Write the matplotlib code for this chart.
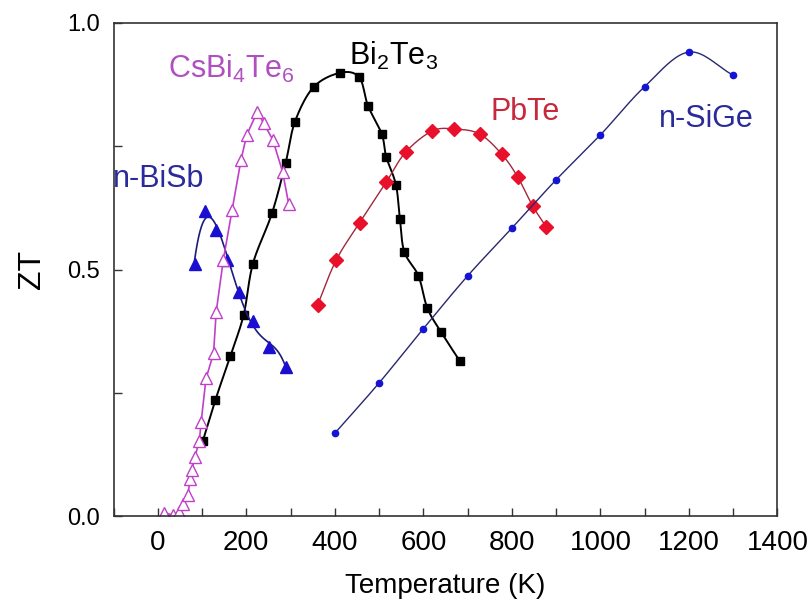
# ZT vs temperature for several thermoelectric materials

import numpy as np
import matplotlib
matplotlib.use('Agg')
import matplotlib.pyplot as plt

# ---- data ----
bi2te3_t  = [102, 130, 164, 194, 215, 258, 289, 310, 352, 412, 455, 475, 506, 516, 538, 547, 557, 589, 609, 640, 682]
bi2te3_zt = [0.153, 0.235, 0.325, 0.408, 0.512, 0.614, 0.717, 0.800, 0.870, 0.899, 0.890, 0.832, 0.775, 0.729,
             0.672, 0.603, 0.536, 0.487, 0.422, 0.373, 0.315]

pbte_t  = [361, 403, 456, 516, 560, 620, 670, 727, 777, 813, 847, 878]
pbte_zt = [0.428, 0.519, 0.595, 0.677, 0.738, 0.781, 0.785, 0.775, 0.734, 0.688, 0.629, 0.586]

sige_t  = [400, 500, 600, 700, 800, 900, 1000, 1100, 1200, 1300]
sige_zt = [0.168, 0.270, 0.380, 0.487, 0.584, 0.682, 0.773, 0.871, 0.941, 0.894]

bisb_t  = [83, 107, 132, 156, 184, 216, 251, 290]
bisb_zt = [0.512, 0.619, 0.581, 0.519, 0.455, 0.396, 0.342, 0.302]

csbt_t  = [14, 34, 49, 58, 68, 73, 77, 84, 94, 98, 109, 126, 132, 148, 168, 188, 201, 225, 239, 260, 282, 296]
csbt_zt = [0.007, 0.002, 0.008, 0.024, 0.042, 0.075, 0.093, 0.120, 0.153, 0.191, 0.279, 0.330, 0.414,
           0.519, 0.621, 0.722, 0.773, 0.820, 0.797, 0.763, 0.698, 0.632]


def smooth(xs, ys, n=20):
    """Catmull-Rom curve through the points (for the smooth connecting lines)"""
    p = np.column_stack([xs, ys]).astype(float)
    p = np.vstack([2 * p[0] - p[1], p, 2 * p[-1] - p[-2]])
    out = []
    for i in range(1, len(p) - 2):
        p0, p1, p2, p3 = p[i - 1], p[i], p[i + 1], p[i + 2]
        t = np.linspace(0, 1, n, endpoint=False)[:, None]
        seg = 0.5 * ((2 * p1) + (-p0 + p2) * t + (2 * p0 - 5 * p1 + 4 * p2 - p3) * t ** 2
                     + (-p0 + 3 * p1 - 3 * p2 + p3) * t ** 3)
        out.append(seg)
    out.append(p[-2][None, :])
    out = np.vstack(out)
    return out[:, 0], out[:, 1]


def fitted(xs, ys, deg):
    """polynomial fit line (the n-BiSb line is a fit, not through the points)"""
    c = np.polyfit(xs, ys, deg)
    xx = np.linspace(xs[0], xs[-1], 200)
    return xx, np.polyval(c, xx)


plt.rcParams['font.family']      = ['Liberation Sans', 'DejaVu Sans']
plt.rcParams['mathtext.default'] = 'regular'

fig = plt.figure(figsize=(8.09, 6.05), dpi=100)
ax = fig.add_axes([0.1403, 0.147, 0.8207, 0.815])

# curves
x, y = smooth(bi2te3_t, bi2te3_zt)
ax.plot(x, y, color='black', lw=1.4)
ax.plot(bi2te3_t, bi2te3_zt, 's', color='black', ms=5.5)

x, y = smooth(pbte_t, pbte_zt)
ax.plot(x, y, color='#a0283c', lw=1.0)
ax.plot(pbte_t, pbte_zt, 'D', color='#e8102a', ms=7.5)

x, y = smooth(sige_t, sige_zt)
ax.plot(x, y, color='#28286e', lw=1.0)
ax.plot(sige_t, sige_zt, 'o', color='#1414d2', ms=4.5)

x, y = fitted(bisb_t, bisb_zt, 4)
ax.plot(x, y, color='#1c1c7a', lw=1.2)
ax.plot(bisb_t, bisb_zt, '^', color='#1a0fd0', ms=8)

ax.plot(csbt_t, csbt_zt, '-', color='#c040c8', lw=1.2)
ax.plot(csbt_t, csbt_zt, '^', mfc='white', mec='#c040c8', mew=1.0, ms=8)

# labels on the curves
ax.text(23, 0.888, 'CsBi$_4$Te$_6$', color='#b050c0', fontsize=22, va='baseline')
ax.text(433, 0.915, 'Bi$_2$Te$_3$', color='black', fontsize=22, va='baseline')
ax.text(752, 0.803, 'PbTe', color='#c8283c', fontsize=22, va='baseline')
ax.text(1132, 0.789, 'n-SiGe', color='#2a2a9a', fontsize=22, va='baseline')
ax.text(-101, 0.667, 'n-BiSb', color='#2a2a9a', fontsize=22, va='baseline')

ax.set_xlim(-100, 1400)
ax.set_ylim(0, 1.0)
ax.set_xticks(np.arange(0, 1401, 200))
ax.set_xticks(np.arange(-100, 1401, 100), minor=True)
ax.set_yticks([0.0, 0.5, 1.0])
ax.set_yticks([0.25, 0.75], minor=True)
ax.yaxis.set_major_formatter(matplotlib.ticker.FormatStrFormatter('%.1f'))
ax.tick_params(direction='in', which='both', length=6, width=1, color='#333333')
ax.tick_params(axis='x', labelsize=20, pad=10)
ax.tick_params(axis='y', labelsize=17, pad=10)
for s in ax.spines.values():
    s.set_color('#333333')
    s.set_linewidth(1.2)

ax.set_xlabel('Temperature (K)', fontsize=20, labelpad=12)
ax.set_ylabel('ZT', fontsize=23, labelpad=14)

plt.savefig('out.png', dpi=100)
